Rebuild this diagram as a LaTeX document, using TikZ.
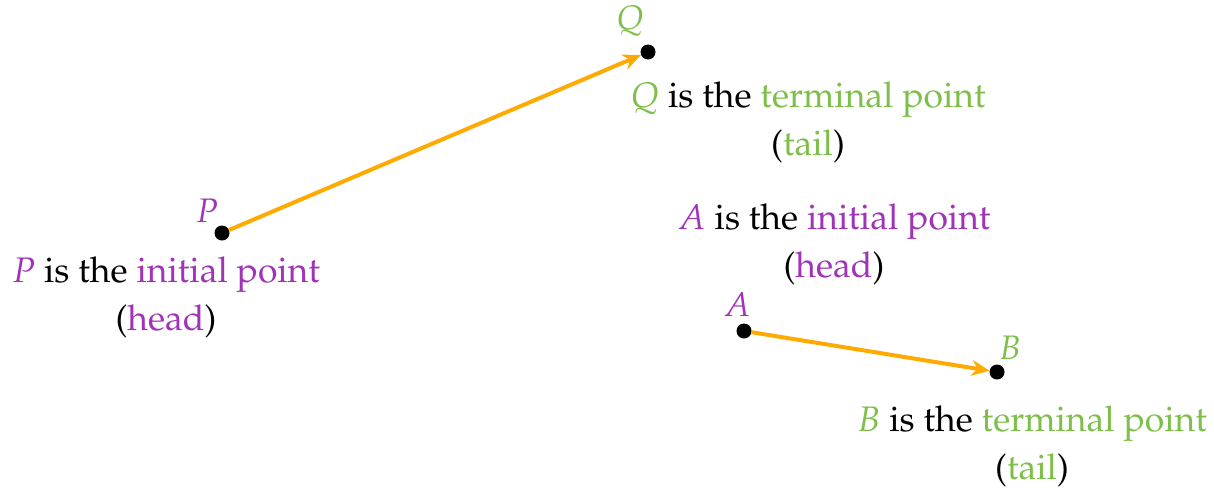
\documentclass[tikz,border=0pt]{standalone}
\usepackage[T1]{fontenc}
\usepackage{mathpazo}
\usetikzlibrary{arrows.meta}
\definecolor{ipurple}{HTML}{A033B8}
\definecolor{tgreen}{HTML}{7DBF4A}
\definecolor{vorange}{HTML}{FFAA00}
\tikzset{
  dot/.style={circle,fill=black,inner sep=0pt,minimum size=15pt},
  vec/.style={draw=vorange,line width=4pt,-{Stealth[length=18pt,width=16pt,inset=6pt]}},
  ptlabel/.style={font=\fontsize{34}{40}\selectfont},
  desc/.style={align=center,font=\fontsize{35.5}{48}\selectfont,inner sep=0pt}
}
\begin{document}
\begin{tikzpicture}[x=1pt,y=-1pt]
\useasboundingbox (0,0) rectangle (1214,493);
\node[dot] (P) at (222,233) {};
\node[dot] (Q) at (648,52) {};
\node[dot] (A) at (744,331) {};
\node[dot] (B) at (997,372) {};
\node[ptlabel,text=ipurple] (Pl) at (207,211) {$P$};
\node[ptlabel,text=tgreen] (Ql) at (630,21) {$Q$};
\node[ptlabel,text=ipurple] (Al) at (737,305) {$A$};
\node[ptlabel,text=tgreen] (Bl) at (1010,348) {$B$};
\draw[vec] (P) -- (Q);
\draw[vec] (A) -- (B);
\node[desc] (Pt) at (166,297) {\textcolor{ipurple}{$P$} is the \textcolor{ipurple}{initial point}\\(\textcolor{ipurple}{head})};
\node[desc] (Qt) at (808,122) {\textcolor{tgreen}{$Q$} is the \textcolor{tgreen}{terminal point}\\(\textcolor{tgreen}{tail})};
\node[desc] (At) at (834,244) {\textcolor{ipurple}{$A$} is the \textcolor{ipurple}{initial point}\\(\textcolor{ipurple}{head})};
\node[desc] (Bt) at (1032,446) {\textcolor{tgreen}{$B$} is the \textcolor{tgreen}{terminal point}\\(\textcolor{tgreen}{tail})};
\end{tikzpicture}
\end{document}
